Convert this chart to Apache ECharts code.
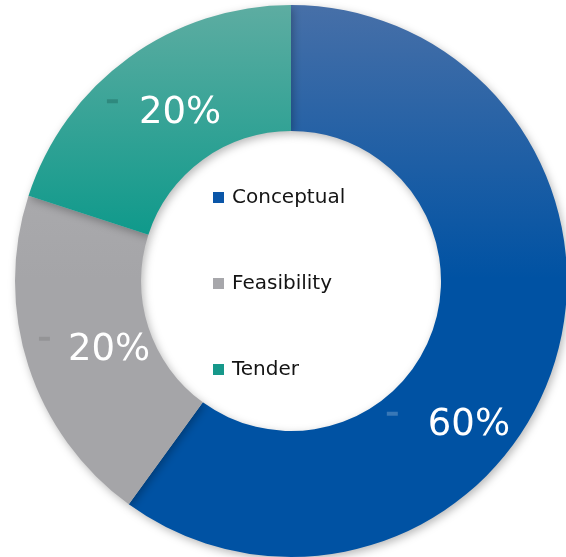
<!DOCTYPE html>
<html>
<head>
<meta charset="utf-8">
<script src="https://cdn.jsdelivr.net/npm/echarts@6/dist/echarts.min.js"></script>
<style>
  html, body { margin: 0; padding: 0; background: #ffffff; }
  #chart { width: 566px; height: 557px; }
</style>
</head>
<body>
<div id="chart"></div>
<script>
// Project stage share (percent)
const stages = ['Conceptual', 'Feasibility', 'Tender'];
const shares = [60, 20, 20];

// Slice fills: vertical gradient from a softer top tone to the solid colour
const fillTops = ['#4870a8', '#b3b3b6', '#5fada2'];
const fillBottoms = ['#0052a3', '#a5a5a8', '#009687'];
const legendSwatch = ['#0a56a8', '#a7a7ab', '#16988a'];

// Small key dash drawn before each value label, and its spacing
const dashTint = ['rgba(255,255,255,0.22)', 'rgba(0,0,0,0.10)', 'rgba(0,40,35,0.22)'];
const dashGap = [30, 18, 21];

// Label nudges away from the ring's mid-point
const labelShift = [[-48, 78], [9, 3], [0, 7]];

const chart = echarts.init(document.getElementById('chart'), null, { renderer: 'canvas' });

const rich = {};
stages.forEach((_, i) => {
  rich['k' + i] = { width: 11, height: 4, backgroundColor: dashTint[i], verticalAlign: 'top' };
  rich['s' + i] = { width: dashGap[i], height: 4 };
});
rich.v = {
  color: '#ffffff',
  fontFamily: 'DejaVu Sans',
  fontSize: 37,
  lineHeight: 28
};

const data = stages.map((name, i) => ({
  name: name,
  value: shares[i],
  itemStyle: {
    color: new echarts.graphic.LinearGradient(0, 0, 0, 557, [
      { offset: 0, color: fillTops[i] },
      { offset: 0.5, color: fillBottoms[i] },
      { offset: 1, color: fillBottoms[i] }
    ], true)
  }
}));

chart.setOption({
  backgroundColor: '#ffffff',
  animation: false,
  legend: {
    orient: 'vertical',
    left: 208,
    top: 182,
    itemWidth: 11,
    itemHeight: 11,
    itemGap: 65,
    icon: 'rect',
    data: stages.map((name, i) => ({ name: name, itemStyle: { color: legendSwatch[i] } })),
    textStyle: {
      fontFamily: 'DejaVu Sans',
      fontSize: 20,
      lineHeight: 21,
      color: '#141414',
      padding: [0, 0, 0, 3]
    }
  },
  series: [{
    type: 'pie',
    center: [291, 281],
    radius: [150, 276],
    startAngle: 90,
    clockwise: true,
    avoidLabelOverlap: false,
    itemStyle: {
      shadowBlur: 8,
      shadowOffsetX: 2,
      shadowOffsetY: 3,
      shadowColor: 'rgba(0,0,0,0.28)'
    },
    label: {
      show: true,
      position: 'inside',
      formatter: function (p) {
        const i = p.dataIndex;
        return '{k' + i + '|}{s' + i + '|}{v|' + p.value + '%}';
      },
      rich: rich
    },
    labelLine: { show: false },
    labelLayout: function (p) {
      const s = labelShift[p.dataIndex];
      return { dx: s[0], dy: s[1] };
    },
    emphasis: { disabled: true },
    data: data
  }]
});
</script>
</body>
</html>
